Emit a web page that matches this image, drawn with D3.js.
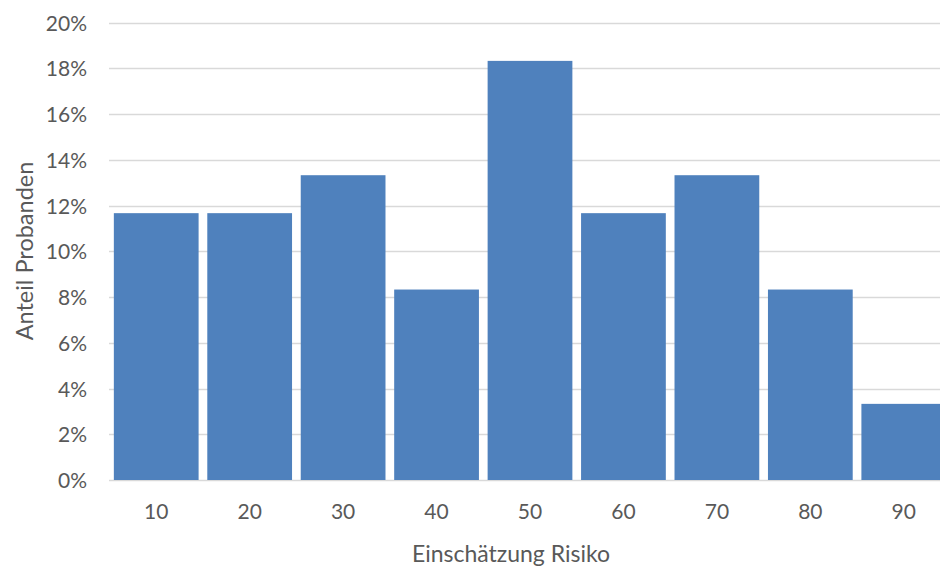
<!DOCTYPE html>
<html><head><meta charset="utf-8">
<script src="https://cdn.jsdelivr.net/npm/d3@7"></script>
<style>body{margin:0;background:#fff}svg{display:block}text{font-family:Lato,"Noto Sans",sans-serif;fill:#595959}</style>
</head><body><svg id="c" width="940" height="572"></svg>
<script>
const categories = ["10","20","30","40","50","60","70","80","90"];
const values = [0.1167,0.1167,0.1333,0.0833,0.1833,0.1167,0.1333,0.0833,0.0333];
const yTicks = [0,0.02,0.04,0.06,0.08,0.10,0.12,0.14,0.16,0.18,0.20];
const xTitle = "Einschätzung Risiko";
const yTitle = "Anteil Probanden";

const svg = d3.select("#c");
const x = d3.scaleBand().domain(categories).range([109.5, 950.5]).paddingInner(0.093).paddingOuter(0.0465);
const y = d3.scaleLinear().domain([0,0.2]).range([480,22.7]);

const g = svg.append("g");
g.selectAll("line.grid").data(yTicks).join("line")
  .attr("x1",109).attr("x2",940)
  .attr("y1",d=>Math.round(y(d))+0.5).attr("y2",d=>Math.round(y(d))+0.5)
  .attr("stroke","#d9d9d9").attr("stroke-width",1.3);

g.selectAll("rect").data(values).join("rect")
  .attr("x",(d,i)=>x(categories[i])).attr("width",x.bandwidth())
  .attr("y",d=>y(d)).attr("height",d=>y(0)-y(d))
  .attr("fill","#4f81bd");

const yAxis = d3.axisLeft(y).tickValues(yTicks).tickFormat(d3.format(".0%")).tickSize(0).tickPadding(0);
const ya = svg.append("g").attr("transform","translate(87,0)").call(yAxis);
ya.select(".domain").remove();
ya.selectAll("text").attr("font-size",21).attr("dy","0.36em").style("font-family","Lato").attr("fill","#595959");

const xAxis = d3.axisBottom(x).tickSize(0).tickPadding(0);
const xa = svg.append("g").attr("transform","translate(0,519)").call(xAxis);
xa.select(".domain").remove();
xa.selectAll("text").attr("font-size",21).attr("dy","0").style("font-family","Lato").attr("fill","#595959");

svg.append("text").attr("x",511).attr("y",562).attr("text-anchor","middle")
  .attr("font-size",23).text(xTitle);
svg.append("text").attr("transform","translate(33,251) rotate(-90)").attr("text-anchor","middle")
  .attr("font-size",23.5).text(yTitle);
</script></body></html>
